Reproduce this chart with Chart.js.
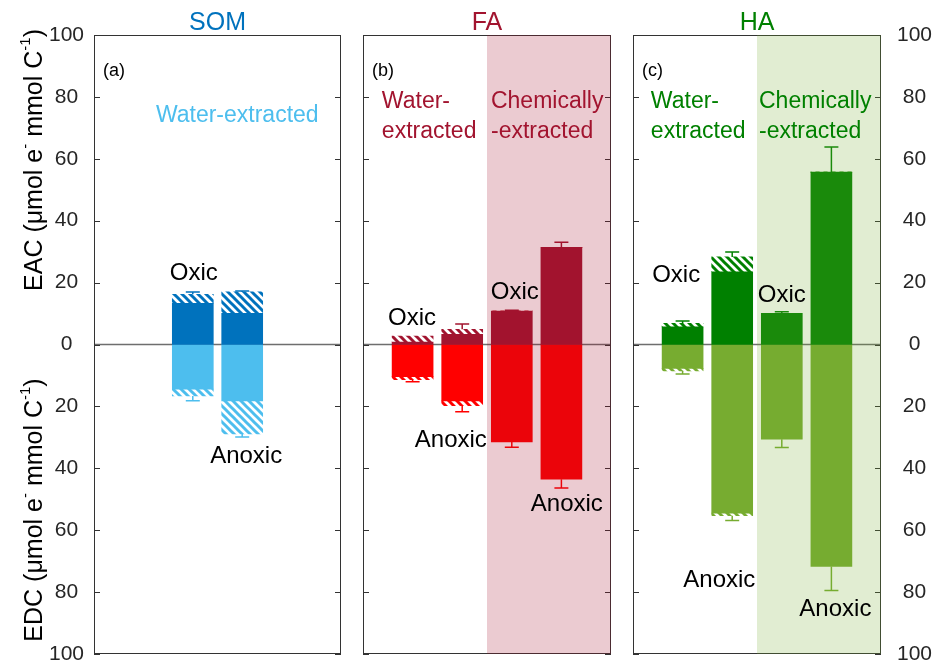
<!DOCTYPE html>
<html>
<head>
<meta charset="utf-8">
<script src="https://cdn.jsdelivr.net/npm/chart.js@4.4.1/dist/chart.umd.min.js"></script>
<style>
  body { margin: 0; background: #fff; }
  #wrap { position: relative; width: 934px; height: 667px; }
  canvas { position: absolute; top: 0; }
</style>
</head>
<body>
<div id="wrap">
  <canvas id="cA" style="left:0px" width="352" height="667"></canvas>
  <canvas id="cB" style="left:352px" width="270" height="667"></canvas>
  <canvas id="cC" style="left:622px" width="312" height="667"></canvas>
</div>
<script>
// tick labels (shown as absolute values)
const yTicks = [-100, -80, -60, -40, -20, 0, 20, 40, 60, 80, 100];

// SOM (water-extracted): oxic, anoxic
const somX = [2, 3];
const somEacSolid = [13.3, 10.1];
const somEacTotal = [16.2, 17.0];
const somEacErr = [0.8, 0.3];
const somEdcSolid = [14.4, 18.2];
const somEdcTotal = [16.6, 28.9];
const somEdcErr = [1.6, 1.0];

// FA: water oxic, water anoxic, chem oxic, chem anoxic
const faX = [1, 2, 3, 4];
const faEacSolid = [0.8, 3.3, 10.8, 31.4];
const faEacTotal = [2.7, 4.9, 10.8, 31.4];
const faEacErr = [0, 1.7, 0.3, 1.6];
const faEdcSolid = [10.4, 18.2, 31.5, 43.5];
const faEdcTotal = [11.4, 19.8, 31.5, 43.5];
const faEdcErr = [0.6, 1.9, 1.7, 2.9];

// HA
const haX = [1, 2, 3, 4];
const haEacSolid = [5.7, 23.5, 10.1, 55.7];
const haEacTotal = [6.8, 28.3, 10.1, 55.7];
const haEacErr = [0.8, 1.6, 0.5, 8.1];
const haEdcSolid = [7.7, 54.5, 30.6, 71.7];
const haEdcTotal = [8.5, 55.3, 30.6, 71.7];
const haEdcErr = [1.0, 1.6, 2.7, 7.8];

const FONT = '"Liberation Sans", Arial, Helvetica, sans-serif';

function hatch(color) {
  const c = document.createElement('canvas');
  c.width = 8; c.height = 8;
  const g = c.getContext('2d');
  g.fillStyle = '#fff';
  g.fillRect(0, 0, 8, 8);
  g.strokeStyle = color;
  g.lineWidth = 3;
  for (const o of [-8, 0, 8]) {
    g.beginPath();
    g.moveTo(o - 2, -2);
    g.lineTo(o + 10, 10);
    g.stroke();
  }
  return g.createPattern(c, 'repeat');
}

function drawRich(ctx, parts, size) {
  let w = 0;
  parts.forEach(p => {
    ctx.font = (p.sup ? size * 0.6 : size) + 'px ' + FONT;
    w += ctx.measureText(p.t).width;
  });
  let cx = -w / 2;
  parts.forEach(p => {
    ctx.font = (p.sup ? size * 0.6 : size) + 'px ' + FONT;
    ctx.fillText(p.t, cx, p.sup ? -size * 0.38 : 0);
    cx += ctx.measureText(p.t).width;
  });
}

const panelPlugin = {
  id: 'panel',
  beforeDatasetsDraw(chart, args, o) {
    const { ctx, chartArea: a, scales: { y } } = chart;
    const y0 = y.getPixelForValue(0);
    ctx.save();
    ctx.strokeStyle = '#6e6e6e';
    ctx.lineWidth = 1.5;
    ctx.beginPath();
    ctx.moveTo(a.left, y0);
    ctx.lineTo(a.right, y0);
    ctx.stroke();
    ctx.restore();
  },
  afterDatasetsDraw(chart, args, o) {
    const { ctx, chartArea: a, scales: { x, y } } = chart;
    ctx.save();

    // error bars, one side only
    o.err.forEach(e => {
      e.x.forEach((xv, i) => {
        if (!e.sd[i]) return;
        const px = x.getPixelForValue(xv);
        const p1 = y.getPixelForValue(e.sign * e.total[i]);
        const p2 = y.getPixelForValue(e.sign * (e.total[i] + e.sd[i]));
        ctx.strokeStyle = e.color;
        ctx.lineWidth = 1.5;
        ctx.beginPath();
        ctx.moveTo(px, p1); ctx.lineTo(px, p2);
        ctx.moveTo(px - 7, p2); ctx.lineTo(px + 7, p2);
        ctx.stroke();
      });
    });

    // box with inward ticks
    ctx.strokeStyle = '#333';
    ctx.lineWidth = 1;
    ctx.strokeRect(a.left + 0.5, a.top + 0.5, a.width - 1, a.height - 1);
    yTicks.forEach(v => {
      const py = Math.round(y.getPixelForValue(v)) + 0.5;
      ctx.beginPath();
      ctx.moveTo(a.left, py); ctx.lineTo(a.left + 6, py);
      ctx.moveTo(a.right, py); ctx.lineTo(a.right - 6, py);
      ctx.stroke();
    });

    // shaded region for chemically-extracted
    if (o.shade) {
      const sx = x.getPixelForValue(o.shade.from);
      ctx.fillStyle = o.shade.color;
      ctx.fillRect(sx, a.top, a.right - sx, a.height);
    }

    // panel title and letter
    ctx.textBaseline = 'alphabetic';
    ctx.textAlign = 'center';
    ctx.fillStyle = o.titleColor;
    ctx.font = '25px ' + FONT;
    ctx.fillText(o.title, (a.left + a.right) / 2, 30);
    ctx.textAlign = 'left';
    ctx.textBaseline = 'middle';
    ctx.fillStyle = '#000';
    ctx.font = '18px ' + FONT;
    ctx.fillText(o.letter, a.left + 9, a.top + 36);

    // annotations
    o.texts.forEach(t => {
      ctx.fillStyle = t.c;
      ctx.font = t.s + 'px ' + FONT;
      ctx.textAlign = t.align || 'center';
      ctx.fillText(t.t, x.getPixelForValue(t.x), y.getPixelForValue(t.y));
    });

    // y axis titles
    if (o.yTitles) {
      ctx.fillStyle = '#000';
      ctx.textAlign = 'left';
      ctx.textBaseline = 'middle';
      [['EAC', 160], ['EDC', 510]].forEach(([w, cy]) => {
        ctx.save();
        ctx.translate(35, cy);
        ctx.rotate(-Math.PI / 2);
        drawRich(ctx, [
          { t: w + ' (\u03bcmol e' }, { t: '-', sup: true },
          { t: ' mmol C' }, { t: '-1', sup: true }, { t: ')' }
        ], 25);
        ctx.restore();
      });
    }
    ctx.restore();
  }
};

function sets(xs, eacSolid, eacTotal, edcSolid, edcTotal, cEac, cEdc) {
  const pt = (arr, sign) => xs.map((xv, i) => ({ x: xv, y: sign * arr[i] }));
  const diff = (tot, sol, sign) => xs.map((xv, i) => ({ x: xv, y: sign * (tot[i] - sol[i]) }));
  return [
    { data: pt(eacSolid, 1), backgroundColor: cEac },
    { data: diff(eacTotal, eacSolid, 1), backgroundColor: hatch(cEac) },
    { data: pt(edcSolid, -1), backgroundColor: cEdc },
    { data: diff(edcTotal, edcSolid, -1), backgroundColor: hatch(cEdc) }
  ];
}

function fitY(width) {
  return s => {
    s.width = width;
    s.paddingTop = 0;
    s.paddingBottom = 0;
  };
}

function makeChart(id, datasets, yAxis, padding, panel) {
  return new Chart(document.getElementById(id), {
    type: 'bar',
    data: { datasets },
    options: {
      responsive: false,
      animation: false,
      layout: { padding },
      datasets: { bar: { barThickness: 41, borderWidth: 0 } },
      plugins: { legend: { display: false }, tooltip: { enabled: false }, panel },
      scales: {
        x: { type: 'linear', min: 0, max: 5, offset: false, stacked: true, display: false },
        y: Object.assign({
          min: -100, max: 100, stacked: true,
          grid: { display: false, drawTicks: false },
          border: { display: false },
          afterBuildTicks: s => { s.ticks = yTicks.map(v => ({ value: v })); }
        }, yAxis)
      }
    },
    plugins: [panelPlugin]
  });
}

const cSomA = '#0072BD', cSomD = '#4DBEEE';
const cFaA = '#A2142F', cFaD = '#FF0000';
const cHaA = '#008000', cHaD = '#77AC30';
const tickFont = { size: 21, family: FONT };

makeChart('cA',
  sets(somX, somEacSolid, somEacTotal, somEdcSolid, somEdcTotal, cSomA, cSomD),
  { position: 'left', ticks: { color: '#262626', font: tickFont, callback: v => Math.abs(v), crossAlign: 'center', padding: 10 },
    afterFit: fitY(94) },
  { left: 0, right: 11, top: 35, bottom: 13 },
  {
    title: 'SOM', titleColor: cSomA, letter: '(a)', yTitles: true,
    err: [
      { x: somX, total: somEacTotal, sd: somEacErr, sign: 1, color: cSomA },
      { x: somX, total: somEdcTotal, sd: somEdcErr, sign: -1, color: cSomD }
    ],
    texts: [
      { t: 'Water-extracted', x: 2.9, y: 74, c: cSomD, s: 23 },
      { t: 'Oxic', x: 2.02, y: 23, c: '#000', s: 24 },
      { t: 'Anoxic', x: 3.08, y: -36.3, c: '#000', s: 24 }
    ]
  });

makeChart('cB',
  sets(faX, faEacSolid, faEacTotal, faEdcSolid, faEdcTotal, cFaA, cFaD),
  { display: false },
  { left: 11, right: 11, top: 35, bottom: 13 },
  {
    title: 'FA', titleColor: cFaA, letter: '(b)',
    shade: { from: 2.5, color: 'rgba(162,20,47,0.22)' },
    err: [
      { x: faX, total: faEacTotal, sd: faEacErr, sign: 1, color: cFaA },
      { x: faX, total: faEdcTotal, sd: faEdcErr, sign: -1, color: cFaD }
    ],
    texts: [
      { t: 'Water-', x: 0.38, y: 78.5, c: cFaA, s: 23, align: 'left' },
      { t: 'extracted', x: 0.38, y: 68.9, c: cFaA, s: 23, align: 'left' },
      { t: 'Chemically', x: 2.58, y: 78.5, c: cFaA, s: 23, align: 'left' },
      { t: '-extracted', x: 2.58, y: 68.9, c: cFaA, s: 23, align: 'left' },
      { t: 'Oxic', x: 0.99, y: 8.5, c: '#000', s: 24 },
      { t: 'Anoxic', x: 1.77, y: -31.1, c: '#000', s: 24 },
      { t: 'Oxic', x: 3.06, y: 17, c: '#000', s: 24 },
      { t: 'Anoxic', x: 4.11, y: -51.8, c: '#000', s: 24 }
    ]
  });

makeChart('cC',
  sets(haX, haEacSolid, haEacTotal, haEdcSolid, haEdcTotal, cHaA, cHaD),
  { position: 'right', ticks: { color: '#262626', font: tickFont, callback: v => Math.abs(v), crossAlign: 'center', padding: 16 },
    afterFit: fitY(53) },
  { left: 11, right: 0, top: 35, bottom: 13 },
  {
    title: 'HA', titleColor: cHaA, letter: '(c)',
    shade: { from: 2.5, color: 'rgba(119,172,48,0.22)' },
    err: [
      { x: haX, total: haEacTotal, sd: haEacErr, sign: 1, color: cHaA },
      { x: haX, total: haEdcTotal, sd: haEdcErr, sign: -1, color: cHaD }
    ],
    texts: [
      { t: 'Water-', x: 0.36, y: 78.5, c: cHaA, s: 23, align: 'left' },
      { t: 'extracted', x: 0.36, y: 68.9, c: cHaA, s: 23, align: 'left' },
      { t: 'Chemically', x: 2.54, y: 78.5, c: cHaA, s: 23, align: 'left' },
      { t: '-extracted', x: 2.54, y: 68.9, c: cHaA, s: 23, align: 'left' },
      { t: 'Oxic', x: 0.87, y: 22.4, c: '#000', s: 24 },
      { t: 'Anoxic', x: 1.74, y: -76.3, c: '#000', s: 24 },
      { t: 'Oxic', x: 3.0, y: 16, c: '#000', s: 24 },
      { t: 'Anoxic', x: 4.08, y: -85.6, c: '#000', s: 24 }
    ]
  });
</script>
</body>
</html>
